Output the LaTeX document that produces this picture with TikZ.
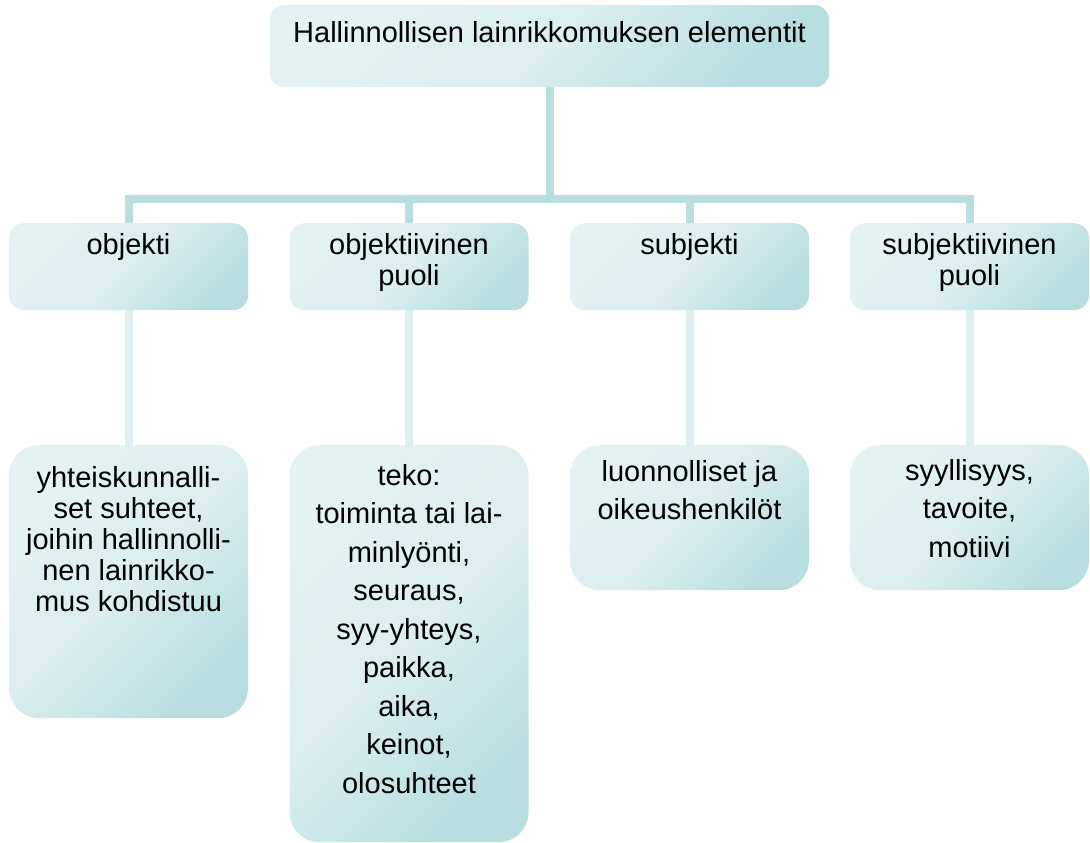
\documentclass[tikz,border=0pt]{standalone}
\usepackage{fontspec}
\setmainfont{Liberation Sans}
\usetikzlibrary{backgrounds}

\definecolor{boxlight}{HTML}{E4F2F3}
\definecolor{boxmid}{HTML}{DCEEF0}
\definecolor{boxdark}{HTML}{B8DEE1}
\definecolor{trunkline}{HTML}{BADFE1}
\definecolor{stemline}{HTML}{DEF0F1}

\tikzset{
  elem/.style={rectangle, anchor=north, rounded corners=15pt, minimum width=239pt,
    minimum height=87pt, inner sep=0pt, top color=boxlight, bottom color=boxdark,
    middle color=boxmid, shading angle=45},
  bigelem/.style={elem, rounded corners=30pt},
  lbl/.style={anchor=north, align=center, inner sep=0pt, font=\fontsize{29}{31}\selectfont},
  widelbl/.style={lbl, font=\fontsize{29}{38.5}\selectfont},
  trunk/.style={draw=trunkline, line width=8pt},
  stem/.style={draw=stemline, line width=8pt}
}

\begin{document}
\begin{tikzpicture}[x=1pt,y=-1pt]
	\useasboundingbox (0,0) rectangle (1090,843);

	% top
	\node[elem, minimum width=559pt, minimum height=82pt, rounded corners=14pt] (top) at (549.5,5) {};
	\node[lbl] (toptxt) at ([yshift=-16pt]top.north) {Hallinnollisen lainrikkomuksen elementit};

	% first row
	\node[elem] (obj) at (128.5,223) {};
	\node[elem] (objp) at (409,223) {};
	\node[elem] (subj) at (689.5,223) {};
	\node[elem] (subjp) at (969.5,223) {};
	\node[lbl] (objtxt) at ([yshift=-10pt]obj.north) {objekti};
	\node[lbl] (objptxt) at ([yshift=-10pt]objp.north) {objektiivinen\\puoli};
	\node[lbl] (subjtxt) at ([yshift=-10pt]subj.north) {subjekti};
	\node[lbl] (subjptxt) at ([yshift=-10pt]subjp.north) {subjektiivinen\\puoli};

	% second row
	\node[bigelem, minimum height=273pt] (objd) at (128.5,445) {};
	\node[bigelem, minimum height=397pt] (objpd) at (409,445) {};
	\node[bigelem, minimum height=145pt] (subjd) at (689.5,445) {};
	\node[bigelem, minimum height=145pt] (subjpd) at (969.5,445) {};
	\node[lbl] (objdtxt) at ([yshift=-21pt]objd.north) {yhteiskunnalli-\\set suhteet,\\joihin hallinnolli-\\nen lainrikko-\\mus kohdistuu};
	\node[widelbl] (objpdtxt) at ([yshift=-19pt]objpd.north) {teko:\\toiminta tai lai-\\minlyönti,\\seuraus,\\syy-yhteys,\\paikka,\\aika,\\keinot,\\olosuhteet};
	\node[widelbl] (subjdtxt) at ([yshift=-15pt]subjd.north) {luonnolliset ja\\oikeushenkilöt};
	\node[widelbl] (subjpdtxt) at ([yshift=-14pt]subjpd.north) {syyllisyys,\\tavoite,\\motiivi};

	\coordinate (bar) at (549.5,199);

	\begin{scope}[on background layer]
		\draw[trunk] (top.south) -- (bar);
		\draw[trunk] (obj.north) |- (bar) -| (subjp.north);
		\draw[trunk] (objp.north) -- (objp.north |- bar);
		\draw[trunk] (subj.north) -- (subj.north |- bar);
		\draw[stem] (obj.south) -- (objd.north);
		\draw[stem] (objp.south) -- (objpd.north);
		\draw[stem] (subj.south) -- (subjd.north);
		\draw[stem] (subjp.south) -- (subjpd.north);
	\end{scope}
\end{tikzpicture}
\end{document}
